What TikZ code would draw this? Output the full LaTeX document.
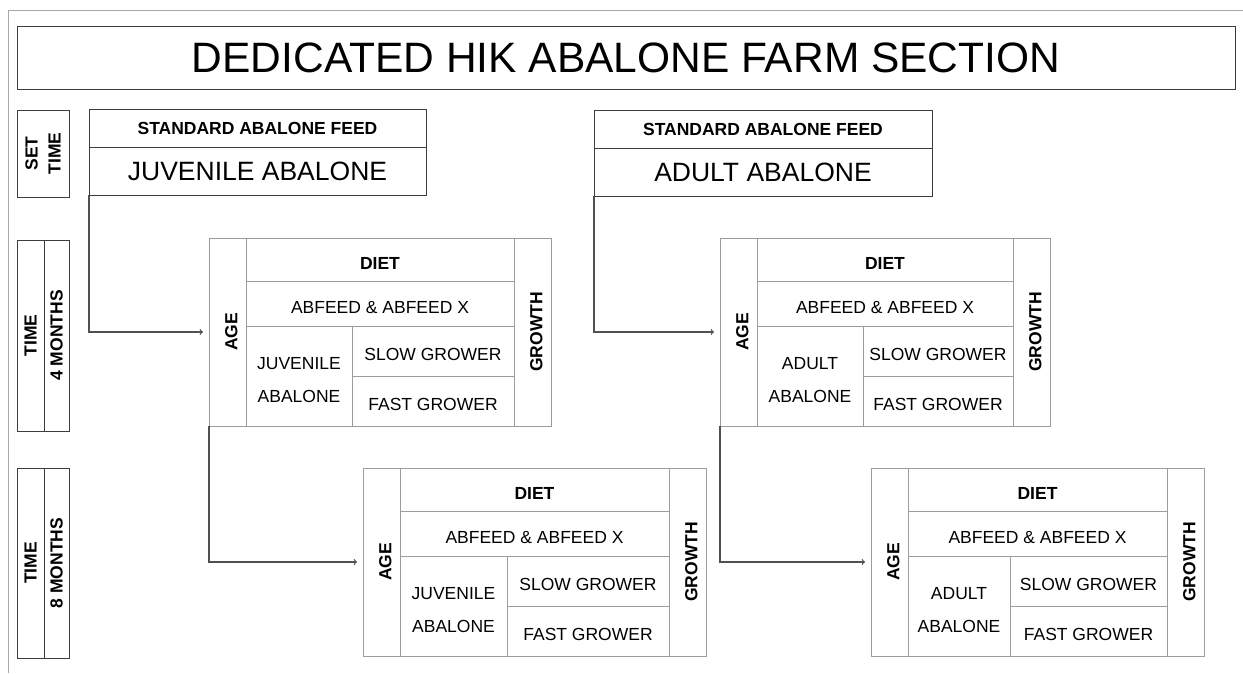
\documentclass[tikz,border=0pt]{standalone}
\usepackage{fontspec}
\setmainfont{Liberation Sans}
\usepackage{graphicx}
\usetikzlibrary{positioning}

\definecolor{boxline}{HTML}{3C3C3C}
\definecolor{cellline}{HTML}{9C9C9C}
\definecolor{frameline}{HTML}{A8A8A8}
\definecolor{linkline}{HTML}{505050}

\tikzset{
  cell/.style={draw=cellline, line width=1pt, inner sep=0pt, outer sep=0pt, text height=19.6pt, text depth=0pt, font=\fontsize{17.5}{21}\selectfont},
  kindcell/.style={draw=cellline, line width=1pt, inner sep=0pt, outer sep=0pt, align=center, font=\fontsize{17.5}{33}\selectfont},
  timecell/.style={draw=boxline, line width=1pt, inner sep=0pt, outer sep=0pt, rotate=90, align=center, font=\bfseries\fontsize{17.5}{23}\selectfont},
  feedbox/.style={draw=boxline, line width=1pt, inner sep=0pt, outer sep=0pt},
  link/.style={->, draw=linkline, line width=1.2pt, shorten >=6pt},
}

% one DIET / GROWTH table: name, left, top, age width, grower width, age text
\newcommand{\abtable}[6]{%
  \node[cell, rotate=90, minimum width=188pt, minimum height=37pt] (#1-age) at ({#2+18.5},{#3+94}) {\bfseries AGE};
  \node[cell, minimum width={#4+#5}, minimum height=43pt] (#1-diet) at ({#2+37+(#4+#5)/2},{#3+21.5}) {\bfseries DIET};
  \node[cell, minimum width={#4+#5}, minimum height=45pt] (#1-feed) at ({#2+37+(#4+#5)/2},{#3+65.5}) {ABFEED \& ABFEED X};
  \node[kindcell, minimum width=#4, minimum height=100pt] (#1-kind) at ({#2+37+#4/2},{#3+138}) {\rule{0pt}{19.6pt}#6};
  \node[cell, minimum width=#5, minimum height=50pt] (#1-slow) at ({#2+37+#4+#5/2},{#3+113}) {SLOW GROWER};
  \node[cell, minimum width=#5, minimum height=50pt] (#1-fast) at ({#2+37+#4+#5/2},{#3+163}) {FAST GROWER};
  \node[cell, rotate=90, minimum width=188pt, minimum height=37pt] (#1-growth) at ({#2+55.5+#4+#5},{#3+94}) {\bfseries GROWTH};
}

\begin{document}
\begin{tikzpicture}[x=1pt, y=-1pt]
    \useasboundingbox (0,0) rectangle (1243,673);
    \draw[frameline, line width=1pt] (8,673) |- (1243,10);

    \node[feedbox, minimum width=1218pt, minimum height=63pt, font=\fontsize{42.5}{50}\selectfont] (title) at (626,57.5) {DEDICATED HIK ABALONE FARM SECTION};

    % time column
    \node[timecell, minimum width=87pt, minimum height=52pt] (set) at (43,153.5) {SET\\TIME};
    \node[timecell, minimum width=191pt, minimum height=27pt] (time4) at (30.5,335.5) {TIME};
    \node[timecell, minimum width=191pt, minimum height=25pt] (months4) at (56.5,335.5) {4 MONTHS};
    \node[timecell, minimum width=190pt, minimum height=27pt] (time8) at (30.5,563) {TIME};
    \node[timecell, minimum width=190pt, minimum height=25pt] (months8) at (56.5,563) {8 MONTHS};

    % starting stock
    \node[feedbox, minimum width=337pt, minimum height=38pt, font=\bfseries\fontsize{17.5}{21}\selectfont] (stdJ) at (257.5,128) {STANDARD ABALONE FEED};
    \node[feedbox, minimum width=337pt, minimum height=48pt, below=0pt of stdJ, font=\fontsize{26.5}{32}\selectfont] (kindJ) {JUVENILE ABALONE};
    \node[feedbox, minimum width=338pt, minimum height=38pt, font=\bfseries\fontsize{17.5}{21}\selectfont] (stdA) at (763,129) {STANDARD ABALONE FEED};
    \node[feedbox, minimum width=338pt, minimum height=48pt, below=0pt of stdA, font=\fontsize{26.5}{32}\selectfont] (kindA) {ADULT ABALONE};

    \abtable{L4}{209}{238}{106}{162}{JUVENILE\\ABALONE}
    \abtable{L8}{363}{468}{107}{162}{JUVENILE\\ABALONE}
    \abtable{R4}{720}{238}{106}{150}{ADULT\\ABALONE}
    \abtable{R8}{871}{468}{102}{157}{ADULT\\ABALONE}

    \draw[link] (kindJ.south west) |- (L4-age);
    \draw[link] (L4-age.north west) |- (L8-age);
    \draw[link] (kindA.south west) |- (R4-age);
    \draw[link] (R4-age.north west) |- (R8-age);
\end{tikzpicture}
\end{document}
